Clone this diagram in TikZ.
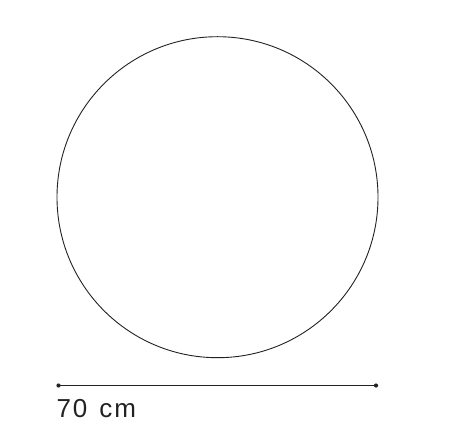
\documentclass[tikz,border=0pt]{standalone}
\usepackage{fontspec}
\setmainfont{Liberation Sans}
\newfontfamily\labelfont[LetterSpace=7]{Liberation Sans}
\definecolor{ink}{HTML}{222222}
\begin{document}
\begin{tikzpicture}[x=1pt,y=-1pt,
  ring/.style={draw=ink,line width=0.9pt},
  ruler/.style={draw=ink,line width=1.8pt},
  tick/.style={circle,fill=ink,inner sep=0pt,minimum size=4.2pt},
  caption/.style={anchor=base west,inner sep=0pt,text=ink,font=\labelfont\fontsize{26}{30}\selectfont}]
\useasboundingbox (0,0) rectangle (473,443);
\node[circle,ring,minimum size=321pt,inner sep=0pt] (plate) at (217.5,197.2) {};
\node[tick] (a) at (58.5,385.5) {};
\node[tick] (b) at (376,385.5) {};
\draw[ruler] (a.center) -- (b.center);
\node[caption] (label) at (56.5,417.3) {70\hspace{3pt} cm};
\end{tikzpicture}
\end{document}
